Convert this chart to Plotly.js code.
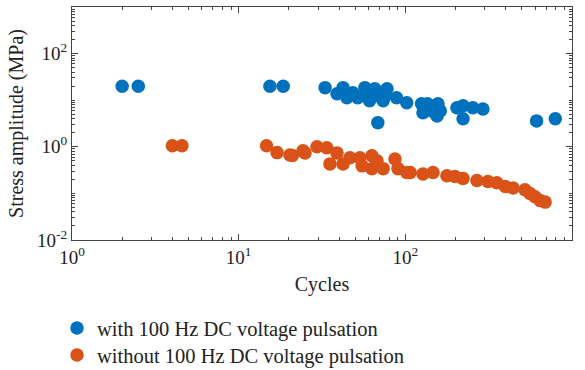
<!DOCTYPE html>
<html>
<head>
<meta charset="utf-8">
<script src="https://cdn.plot.ly/plotly-3.0.1.min.js"></script>
<style>html,body{margin:0;padding:0;background:#fff;}#chart{width:585px;height:370px;}</style>
</head>
<body>
<div id="chart"></div>
<script>
// Series: with 100 Hz DC voltage pulsation
const withCycles = [2.0, 2.5, 15.4, 18.5, 33, 38.9, 42.3, 44.6, 48.4, 51.8, 57.2, 58.6, 61, 65.6, 68.4, 68.4, 73.6, 77.6, 75.5, 88.6, 102, 125, 127.6, 136, 144, 155, 157, 162, 204, 222, 222, 254, 292, 613, 794];
const withStress = [20, 20, 20, 20, 18.6, 13.8, 18.6, 11.3, 14.5, 11.3, 18.6, 13.8, 9.7, 17.6, 12.5, 3.3, 9.7, 17.6, 12.5, 11.3, 8.8, 8.4, 5.4, 8.4, 5.9, 4.6, 8.4, 5.9, 6.9, 4.0, 7.6, 6.9, 6.5, 3.6, 4.0];
// Series: without 100 Hz DC voltage pulsation
const withoutCycles = [4.0, 4.57, 14.7, 17, 20.3, 21, 24.3, 25, 29.5, 33.8, 35.3, 38.9, 42.3, 46.5, 53.4, 55, 63, 63, 67.6, 73.6, 86.7, 90.3, 102, 107, 127.6, 146.6, 177.6, 198.5, 221.8, 269, 313, 354, 398, 443, 522, 560, 600, 645, 690];
const withoutStress = [1.05, 1.05, 1.05, 0.75, 0.67, 0.65, 0.82, 0.74, 1.0, 0.95, 0.43, 0.74, 0.43, 0.58, 0.58, 0.39, 0.64, 0.34, 0.5, 0.34, 0.55, 0.34, 0.28, 0.28, 0.26, 0.28, 0.24, 0.23, 0.21, 0.19, 0.18, 0.17, 0.14, 0.13, 0.12, 0.1, 0.085, 0.07, 0.065];
// Tick labels
const xTickVals = [1, 10, 100, 1000];
const xTickText = ['10<sup>0</sup>', '10<sup>1</sup>', '10<sup>2</sup>', '10<sup>3</sup>'];
const yTickVals = [0.01, 1, 100];
const yTickText = ['10<sup>-2</sup>', '10<sup>0</sup>', '10<sup>2</sup>'];

function minorVals(lo, hi, skip) {
  const out = [];
  for (let e = lo; e < hi; e++) {
    for (let m = 1; m <= 9; m++) {
      const v = m * Math.pow(10, e);
      if (m === 1 && skip.indexOf(e) >= 0) continue;
      out.push(v);
    }
  }
  return out;
}

const fam = 'Liberation Serif, Times New Roman, serif';
const font = {family: fam, size: 19, color: '#222'};

const traces = [
  {x: withCycles, y: withStress, mode: 'markers', type: 'scatter', name: 'with 100 Hz DC voltage pulsation',
   legend: 'legend', marker: {color: '#0072BD', size: 13.5, line: {width: 0}}},
  {x: withoutCycles, y: withoutStress, mode: 'markers', type: 'scatter', name: 'without 100 Hz DC voltage pulsation',
   legend: 'legend2', marker: {color: '#D95319', size: 13.5, line: {width: 0}}}
];

const axisCommon = {
  type: 'log', showgrid: false, zeroline: false, showline: true, linecolor: '#444', linewidth: 1,
  mirror: 'allticks', ticks: 'inside', ticklen: 6, tickcolor: '#444', tickwidth: 1,
  tickfont: {family: fam, size: 19, color: '#222'}, automargin: false
};

const legendCommon = {x: -0.03, xanchor: 'left', yanchor: 'middle', orientation: 'v',
  font: {family: fam, size: 20.5, color: '#222'}, bgcolor: 'rgba(0,0,0,0)'};

const layout = {
  width: 585, height: 370,
  margin: {l: 72, r: 13, t: 7, b: 130, autoexpand: false},
  paper_bgcolor: '#fff', plot_bgcolor: '#fff',
  font: font,
  showlegend: true,
  legend: Object.assign({}, legendCommon, {y: -0.378}),
  legend2: Object.assign({}, legendCommon, {y: -0.494}),
  xaxis: Object.assign({}, axisCommon, {
    range: [0, 3], tickmode: 'array', tickvals: xTickVals, ticktext: xTickText,
    minor: {tickmode: 'array', tickvals: minorVals(0, 3, [0, 1, 2]), ticks: 'inside', ticklen: 3, tickcolor: '#444'},
    title: {text: 'Cycles', font: {family: fam, size: 20, color: '#222'}, standoff: 10}
  }),
  yaxis: Object.assign({}, axisCommon, {
    range: [-2, 3], tickmode: 'array', tickvals: yTickVals, ticktext: yTickText,
    minor: {tickmode: 'array', tickvals: minorVals(-2, 3, [-2, 0, 2]), ticks: 'inside', ticklen: 3, tickcolor: '#444'},
    title: {text: 'Stress amplitude (MPa)', font: {family: fam, size: 20, color: '#222'}, standoff: 8}
  })
};

Plotly.newPlot('chart', traces, layout, {displayModeBar: false, staticPlot: true});
</script>
</body>
</html>
